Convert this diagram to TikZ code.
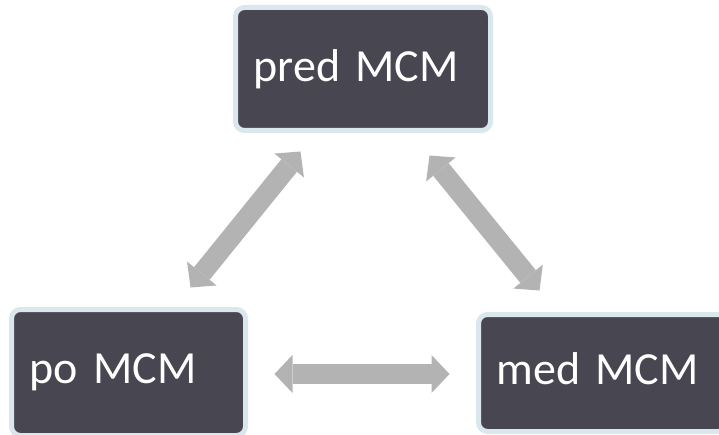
\documentclass[tikz,border=0pt]{standalone}
\usepackage{fontspec}
\setmainfont{Carlito}
\usetikzlibrary{arrows.meta}
\definecolor{boxfill}{HTML}{474651}
\definecolor{boxedge}{HTML}{DAE7EC}
\definecolor{arrowgrey}{HTML}{B3B3B3}
\begin{document}
\begin{tikzpicture}[x=1pt,y=1pt,
  stagebox/.style={draw=boxedge, fill=boxfill, line width=5pt, rounded corners=9pt,
    text=white, font=\fontsize{46}{50}\selectfont, align=left, inner xsep=18pt,
    inner ysep=0pt, text height=29pt},
  dblarrow/.style={draw=arrowgrey, line width=20pt,
    {Triangle[width=38pt,length=18pt,line width=0pt]}-{Triangle[width=38pt,length=18pt,line width=0pt]}}
]
\useasboundingbox (0,0) rectangle (719,434);
\clip (0,0) rectangle (719,434);
\node[stagebox, minimum width=255pt, minimum height=123pt, text width=219pt, text depth=3pt]
  (pred) at (363,365) {pred MCM};
\node[stagebox, minimum width=234pt, minimum height=126pt, text width=198pt, text depth=7pt]
  (po) at (128.5,61.5) {po MCM};
\node[stagebox, minimum width=249pt, minimum height=117pt, text width=213pt, text depth=7pt, inner xsep=18pt]
  (med) at (603,61) {med MCM};
\draw[dblarrow] ([xshift=67.5pt,yshift=-18.5pt]pred.south west) -- ([xshift=-57.5pt,yshift=19.5pt]po.north east);
\draw[dblarrow] ([xshift=-63.5pt,yshift=-22.5pt]pred.south east) -- ([xshift=63.5pt,yshift=21.5pt]med.north west);
\draw[dblarrow] ([xshift=26.5pt,yshift=-1.5pt]po.east) -- ([xshift=-26.5pt,yshift=-1pt]med.west);
\end{tikzpicture}
\end{document}
